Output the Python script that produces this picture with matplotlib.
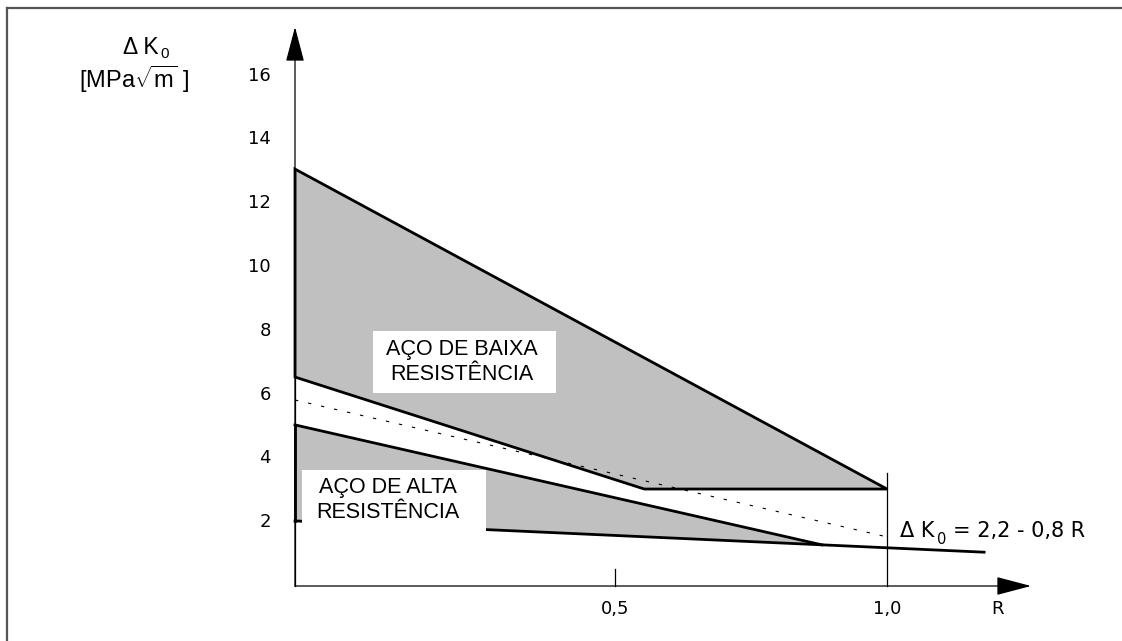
import matplotlib
matplotlib.use("Agg")
import matplotlib.pyplot as plt
from matplotlib.patches import Rectangle

plt.rcParams['font.family'] = ['Liberation Sans', 'DejaVu Sans']
plt.rcParams['mathtext.fontset'] = 'custom'
plt.rcParams['mathtext.rm'] = 'Liberation Sans'
plt.rcParams['mathtext.it'] = 'Liberation Sans:italic'
plt.rcParams['mathtext.bf'] = 'Liberation Sans:bold'

# band for low strength steel (R, dK0)
baixa_R = [0.0, 1.0, 0.59, 0.0]
baixa_K = [13.07, 3.04, 3.04, 6.55]
# band for high strength steel
alta_R = [0.0, 0.89, 0.0]
alta_K = [5.05, 1.29, 2.04]
# lower limit line dK0 = 2,2 - 0,8 R
lim_R = [0.0, 1.164]
lim_K = [2.04, 1.06]
# dashed mean line
mean_R = [0.0, 1.0]
mean_K = [5.83, 1.54]

yticks = [2, 4, 6, 8, 10, 12, 14, 16]
xtick_pos = [0.54, 1.0]
xtick_lab = ['0,5', '1,0']

# pixel -> data helpers (layout only)
def dx(px):
    return (px - 295) / 592.0

def dy(py):
    return (586 - py) / 31.9

fig = plt.figure(figsize=(11.22, 6.41), dpi=100)
ax = fig.add_axes([0, 0, 1, 1])
ax.set_xlim(dx(0), dx(1122))
ax.set_ylim(dy(641), dy(0))
ax.axis('off')

grey = '#c0c0c0'
ax.fill(baixa_R, baixa_K, facecolor=grey, edgecolor='black', lw=2.0, joinstyle='miter', zorder=2)
ax.fill(alta_R, alta_K, facecolor=grey, edgecolor='none', zorder=2)
ax.plot(alta_R[:2], alta_K[:2], color='black', lw=2.0, zorder=3)
ax.plot([alta_R[0], alta_R[2]], [alta_K[0], alta_K[2]], color='black', lw=2.0, zorder=3)
ax.plot(lim_R, lim_K, color='black', lw=2.0, zorder=3)
ax.plot(mean_R, mean_K, color='black', lw=0.8, linestyle=(0, (3, 9)), zorder=3)

# axes with arrows
ax.annotate('', xy=(0, dy(27)), xytext=(0, 0),
            arrowprops=dict(arrowstyle='-|>,head_length=2.2,head_width=0.58',
                            lw=0.9, color='black', shrinkA=0, shrinkB=0), zorder=4)
ax.annotate('', xy=(dx(1031), 0), xytext=(0, 0),
            arrowprops=dict(arrowstyle='-|>,head_length=2.2,head_width=0.58',
                            lw=0.9, color='black', shrinkA=0, shrinkB=0), zorder=4)
ax.plot([0, 0], [0, 13.07], color='black', lw=0.9, zorder=4)
ax.plot([1.0, 1.0], [0, dy(473)], color='black', lw=0.9, zorder=4)
ax.plot([xtick_pos[0]] * 2, [0, dy(569)], color='black', lw=0.9, zorder=4)

wide = 'DejaVu Sans'
fs = 13
for v in yticks:
    ax.text(dx(271), v, str(v), ha='right', va='center', fontsize=fs, family=wide)
for p, lab in zip(xtick_pos, xtick_lab):
    ax.text(p, dy(609), lab, ha='center', va='center', fontsize=fs, family=wide)
ax.text(dx(997), dy(609), 'R', ha='center', va='center', fontsize=fs, family=wide)

# y axis title
ax.text(dx(159), dy(47), 'Δ K', ha='right', va='center', fontsize=16.5)
ax.text(dx(160), dy(54), '0', ha='left', va='center', fontsize=11)
ax.text(dx(134), dy(79), r'$[\mathrm{MPa}\sqrt{\mathrm{m}}\ ]$', ha='center', va='center', fontsize=17)

# formula label
ax.text(dx(900), dy(531), 'Δ K', ha='left', va='center', fontsize=15, family=wide)
ax.text(dx(937), dy(539), '0', ha='left', va='center', fontsize=10.5, family=wide)
ax.text(dx(953), dy(531), '= 2,2 - 0,8 R', ha='left', va='center', fontsize=15, family=wide)

# label boxes
ax.add_patch(Rectangle((dx(373), dy(393)), dx(556) - dx(373), dy(331) - dy(393),
                       facecolor='white', edgecolor='none', zorder=5))
ax.text(dx(462), dy(362), 'AÇO DE BAIXA\nRESISTÊNCIA', ha='center', va='center',
        multialignment='center', fontsize=15.5, linespacing=1.2, zorder=6)
ax.add_patch(Rectangle((dx(302), dy(531)), dx(486) - dx(302), dy(470) - dy(531),
                       facecolor='white', edgecolor='none', zorder=5))
ax.text(dx(388), dy(500), 'AÇO DE ALTA\nRESISTÊNCIA', ha='center', va='center',
        multialignment='center', fontsize=15.5, linespacing=1.2, zorder=6)

# frame (top and left only)
ax.plot([dx(7), dx(1122)], [dy(8), dy(8)], color='#555555', lw=1.6, clip_on=False)
ax.plot([dx(7), dx(7)], [dy(8), dy(641)], color='#555555', lw=1.6, clip_on=False)

fig.savefig('out.png', dpi=100)
